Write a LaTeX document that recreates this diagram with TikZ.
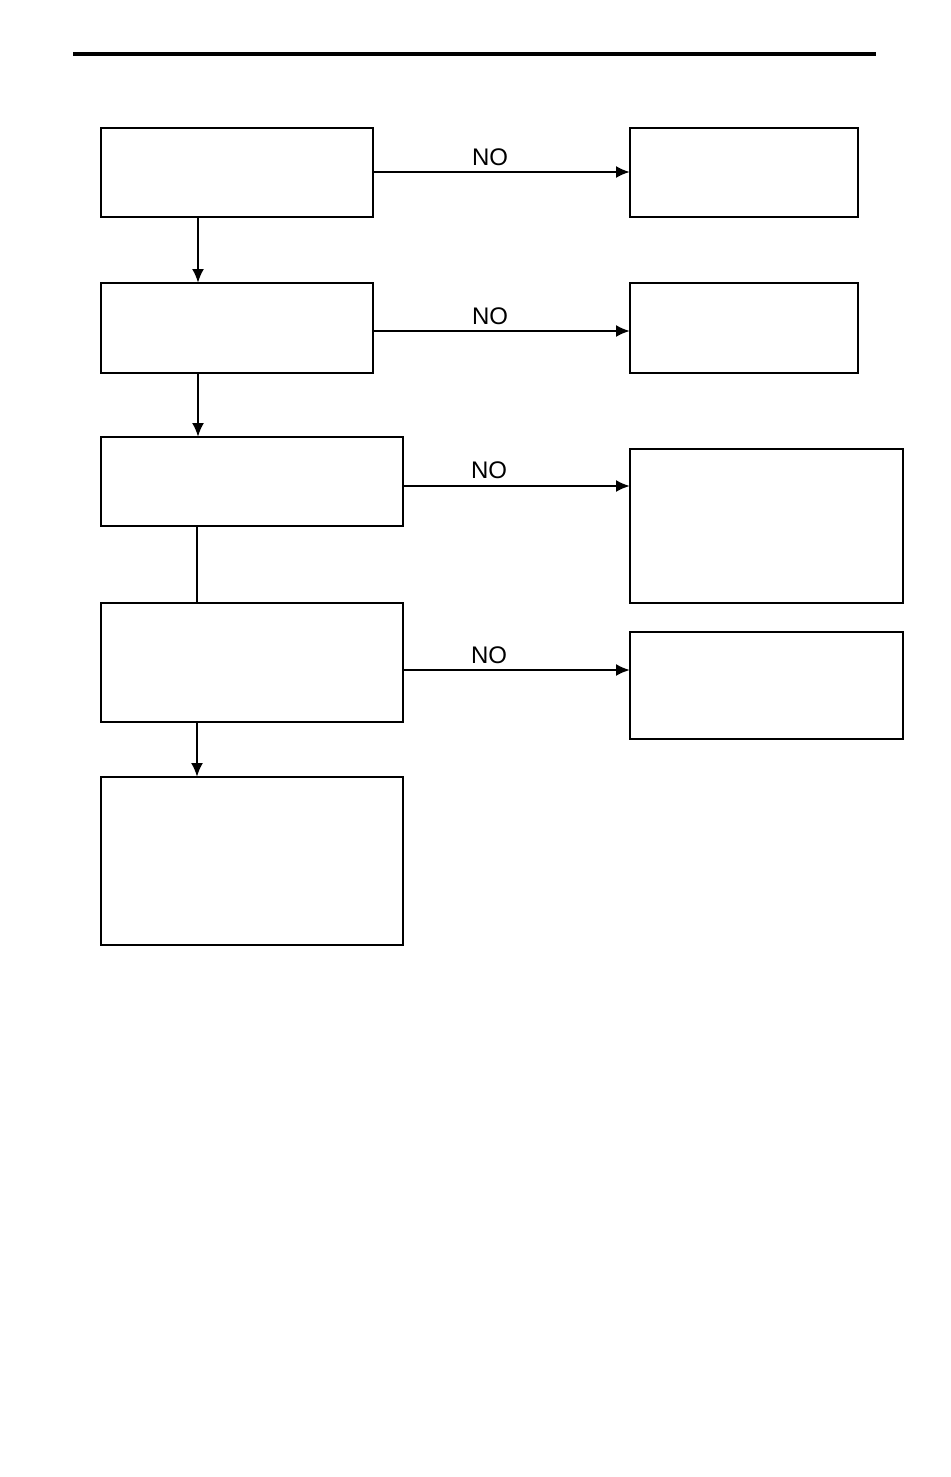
\documentclass[tikz,border=0pt]{standalone}
\usepackage{fontspec}
\setmainfont{Liberation Sans}
\usetikzlibrary{arrows.meta}
\begin{document}
\begin{tikzpicture}[x=1pt,y=-1pt,
  box/.style={draw,line width=1.5pt,inner sep=0pt,outer sep=0pt,anchor=north west},
  conn/.style={line width=2.2pt},
  arr/.style={conn,-{Latex[length=14pt,width=12pt]}},
  lbl/.style={font=\fontsize{24}{28}\selectfont,inner sep=0pt,anchor=base}]
\useasboundingbox (0,0) rectangle (950,1477);
\fill[white] (0,0) rectangle (950,1477);
\coordinate (rl) at (73,54);
\coordinate (rr) at (876,54);
\draw[line width=3.8pt] (rl) -- (rr);
% left column
\node[box,minimum width=272pt,minimum height=89pt] (b1) at (101,128) {};
\node[box,minimum width=272pt,minimum height=90pt] (b2) at (101,283) {};
\node[box,minimum width=302pt,minimum height=89pt] (b3) at (101,437) {};
\node[box,minimum width=302pt,minimum height=119pt] (b4) at (101,603) {};
\node[box,minimum width=302pt,minimum height=168pt] (b5) at (101,777) {};
% right column
\node[box,minimum width=228pt,minimum height=89pt] (r1) at (630,128) {};
\node[box,minimum width=228pt,minimum height=90pt] (r2) at (630,283) {};
\node[box,minimum width=273pt,minimum height=154pt] (r3) at (630,449) {};
\node[box,minimum width=273pt,minimum height=107pt] (r4) at (630,632) {};
% vertical connectors
\coordinate (cx) at (198,0);
\coordinate (cy) at (197,0);
\draw[arr] (b1.south -| cx) -- (b2.north -| cx);
\draw[arr] (b2.south -| cx) -- (b3.north -| cx);
\draw[conn] (b3.south -| cy) -- (b4.north -| cy);
\draw[arr] (b4.south -| cy) -- (b5.north -| cy);
% horizontal connectors
\coordinate (h1) at (0,172);
\coordinate (h2) at (0,331);
\coordinate (h3) at (0,486);
\coordinate (h4) at (0,670);
\draw[arr] (b1.east |- h1) -- (r1.west |- h1);
\draw[arr] (b2.east |- h2) -- (r2.west |- h2);
\draw[arr] (b3.east |- h3) -- (r3.west |- h3);
\draw[arr] (b4.east |- h4) -- (r4.west |- h4);
% labels
\node[lbl] (n1) at (490,165) {NO};
\node[lbl] (n2) at (490,324) {NO};
\node[lbl] (n3) at (489,478) {NO};
\node[lbl] (n4) at (489,663) {NO};
\end{tikzpicture}
\end{document}
